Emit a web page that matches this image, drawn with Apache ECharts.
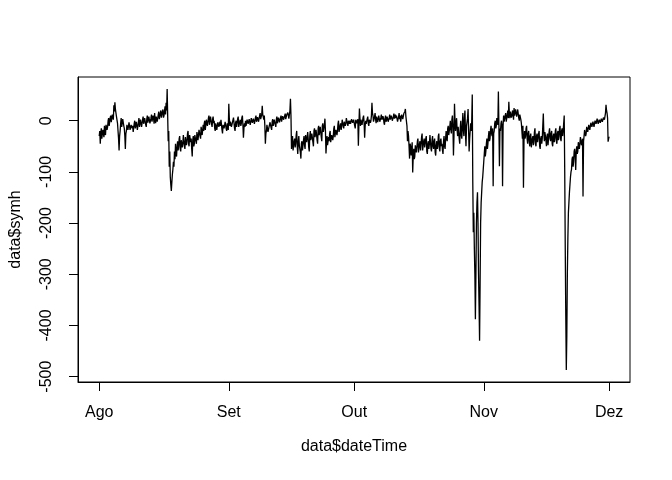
<!DOCTYPE html>
<html>
<head>
<meta charset="utf-8">
<script src="https://cdn.jsdelivr.net/npm/echarts@6/dist/echarts.min.js"></script>
<style>html,body{margin:0;padding:0;background:#fff}#c{width:672px;height:480px}</style>
</head>
<body>
<div id="c"></div>
<script>
// SYM-H (nT), 3-hourly readings starting 2003-08-01 00:00 UT (x = days since start)
const startDate = '2003-08-01';
const stepDays = 0.125;
const symh = [
-30,-20,-45,-25,-15,-35,-25,-18, -20,-32,-10,-22,-28,-8,-5,-18, -12,0,5,-10,-8,6,10,-3, 0,12,15,2,30,18,36,22,
20,8,5,-5,-20,-35,-58,-30, -20,-5,5,-12,-10,3,0,-10, -15,-30,-55,-25,-20,-8,-5,-18, -15,-3,0,-18,-20,-8,-5,-15,
-10,-22,-25,-5,0,-15,-12,-2, -5,-18,-20,-2,5,-12,-10,2, 0,-12,-15,2,8,-6,-5,5, 5,-8,-12,3,10,-4,-3,8,
8,-5,-8,5,12,-2,0,10, 5,-6,15,2,-5,8,10,-2, 0,12,18,3,5,15,20,6, 8,18,22,6,10,20,28,12,
35,20,62,10,-40,-20,-90,-60, -110,-125,-137,-120,-105,-95,-80,-90, -60,-75,-45,-65,-70,-50,-40,-58, -50,-35,-30,-55,-60,-38,-35,-52,
-45,-28,-25,-50,-55,-32,-30,-48, -40,-25,-20,-45,-50,-28,-25,-42, -35,-55,-70,-38,-30,-50,-45,-28, -25,-40,-45,-22,-20,-38,-35,-18,
-15,-30,-35,-12,-10,-28,-25,-8, -20,-5,0,-18,-15,2,5,-10, -10,5,10,-8,-5,8,5,-6, -12,3,8,-5,0,-15,-20,-5,
-5,-18,-20,-3,0,-12,-15,-2, -10,2,5,-18,-25,-8,-5,-15, -15,-2,0,-16,-20,-5,-8,-18,
33,5,-10,-2,0,-12,-15,-3, -5,6,5,-15,-20,-4,0,-12, -10,4,8,-12,-15,-2,2,-10, -5,6,10,-8,-33,-15,-5,-12,
0,-10,-12,2,5,-6,-8,3, 3,-8,-10,5,8,-4,-5,4, 5,-6,-8,6,10,-2,0,7, 8,-2,-3,10,15,3,5,12,
29,12,15,2,10,-10,-45,-25, -20,-8,-5,-22,-25,-12,-10,-3, 0,-14,-18,-2,3,-10,-8,2, 5,-8,-12,2,8,-5,-3,6,
8,-3,-5,6,10,-2,0,9, 12,2,0,10,14,3,5,12, 10,16,18,4,5,20,43,10, -55,-38,-30,-58,-60,-40,-35,-52,
-45,-28,-20,-50,-65,-42,-30,-48, -50,-62,-74,-45,-40,-58,-60,-38, -30,-48,-55,-28,-25,-42,-45,-22, -35,-52,-60,-30,-20,-38,-40,-25,
-25,-42,-50,-20,-15,-32,-35,-18, -20,-38,-45,-15,-10,-28,-30,-12, -15,-32,-40,-10,-5,-22,-25,-8, 4,-20,-64,-45,-30,-48,-50,-32,
-40,-25,-20,-42,-45,-28,-25,-38, -30,-15,-10,-32,-35,-18,-15,-28, -20,-6,0,-22,-25,-10,-5,-18, -12,2,5,-10,-15,-2,0,-10,
-5,5,8,-6,-10,0,2,-6, 0,-6,-8,3,4,-4,-5,2,
0,-10,-15,2,5,-5,-8,3, -49,-10,24,5,-10,2,0,-8, -5,6,10,-4,-33,-10,0,-6, -5,4,8,-6,-10,2,5,-4,
0,10,35,15,10,-2,0,8, 15,2,-5,8,10,-3,0,10, 8,-2,-5,6,12,2,0,9, 5,-4,-8,4,10,-2,2,8,
8,-2,-5,6,12,2,0,10, 10,0,-3,8,14,4,2,12, 5,10,12,-2,-5,8,15,3, 10,-2,0,12,15,3,5,14,
12,18,23,8,5,-10,-40,-20, -30,-50,-74,-45,-50,-68,-65,-42, -101,-70,-55,-75,-70,-48,-45,-62, -60,-40,-35,-62,-65,-45,-40,-58,
-55,-32,-25,-58,-60,-40,-35,-52, -50,-35,-30,-60,-65,-45,-40,-55, -45,-28,-25,-55,-60,-38,-30,-50, -55,-40,-35,-62,-68,-48,-40,-55,
-50,-30,-25,-55,-60,-40,-35,-50, -45,-58,-65,-40,-30,-50,-55,-35, -20,-35,-40,-15,-10,-28,-30,-12, 0,-18,-25,2,10,-10,-68,-30,
33,0,-20,-5,5,-18,-30,-12, -10,-35,-45,-15,0,-28,-35,-8, 15,-18,-30,5,20,-25,-50,-10, -10,5,23,-20,-60,-35,-20,-5,
-20,0,51,-120,-218,-180,-250,-300, -388,-300,-200,-160,-140,-200,-300,-360, -430,-320,-200,-160,-140,-120,-110,-95,
-80,-65,-50,-70,-60,-45,-35,-55, -45,-30,-20,-40,-35,-18,-10,-25, -30,-15,-128,-25,-20,-5,0,-15, -10,5,5,-8,57,-10,-89,-15,
-20,-5,0,-12,-128,-10,10,-2, -5,10,15,-2,0,12,20,5, 37,15,5,18,20,6,10,20, 15,2,25,10,10,22,22,8,
10,22,20,5,0,12,15,2, -5,-20,-35,-10,-131,-40,-20,-35, -30,-15,-10,-35,-45,-25,-20,-40, -50,-30,-25,-52,-55,-35,-30,-48,
-40,-22,-15,-45,-50,-30,-25,-42, -45,-25,-20,-50,-55,-35,-30,-45, -35,-10,14,-25,-40,-22,-20,-38, -50,-30,-25,-48,-45,-22,-15,-35,
-40,-25,-20,-45,-50,-30,-25,-42, -35,-20,-15,-40,-45,-25,-20,-38, -30,-15,-10,-35,-40,-20,-15,-30,
-20,-5,10,-100,-250,-380,-487,-420, -300,-230,-180,-160,-140,-125,-110,-100, -95,-75,-70,-90,-80,-60,-55,-70, -96,-60,-50,-65,-60,-42,-40,-55,
-45,-32,-30,-48,-50,-35,-148,-40, -30,-18,-15,-30,-25,-12,-10,-22, -20,-8,-5,-18,-15,-4,-2,-12, -10,-2,0,-12,-12,0,2,-6,
-5,4,5,-6,-8,2,3,-4, 0,4,5,-2,-3,6,8,2, 5,15,31,20,15,5,-41,-35,
-31
];
const monthTickDays = [0, 31, 61, 92, 122];
const monthLabels = ['Ago', 'Set', 'Out', 'Nov', 'Dez'];
const yTicks = [-500, -400, -300, -200, -100, 0];

const points = symh.map((v, i) => [i * stepDays, v]);
const font = '"Liberation Sans", Arial, Helvetica, sans-serif';

const chart = echarts.init(document.getElementById('c'), null, {renderer: 'canvas'});
chart.setOption({
  animation: false,
  backgroundColor: '#fff',
  grid: {left: 78, top: 77, width: 552, height: 305, show: true, borderColor: '#000', borderWidth: 1, backgroundColor: 'transparent'},
  xAxis: {
    type: 'value', min: -5.08, max: 126.99,
    name: 'data$dateTime', nameLocation: 'middle', nameGap: 57,
    nameTextStyle: {fontSize: 16, color: '#000', fontFamily: font},
    axisLine: {show: true, onZero: false, lineStyle: {color: '#000', width: 1}},
    axisTick: {show: true, length: 9, lineStyle: {color: '#000'}, customValues: monthTickDays},
    axisLabel: {fontSize: 16, color: '#000', fontFamily: font, margin: 23, customValues: monthTickDays,
      formatter: v => monthLabels[monthTickDays.indexOf(Math.round(v))] || ''},
    splitLine: {show: false}
  },
  yAxis: {
    type: 'value', min: -510.4, max: 85.4,
    name: 'data$symh', nameLocation: 'middle', nameGap: 54, nameRotate: 90,
    nameTextStyle: {fontSize: 16, color: '#000', fontFamily: font},
    axisLine: {show: true, onZero: false, lineStyle: {color: '#000', width: 1}},
    axisTick: {show: true, length: 9, lineStyle: {color: '#000'}, customValues: yTicks},
    axisLabel: {fontSize: 16, color: '#000', fontFamily: font, margin: 23, rotate: 90, customValues: yTicks,
      formatter: v => String(v)},
    splitLine: {show: false}
  },
  series: [{
    type: 'line', data: points, showSymbol: false, symbol: 'none', sampling: null,
    lineStyle: {color: '#000', width: 1.3}, clip: true
  }]
});
</script>
</body>
</html>
